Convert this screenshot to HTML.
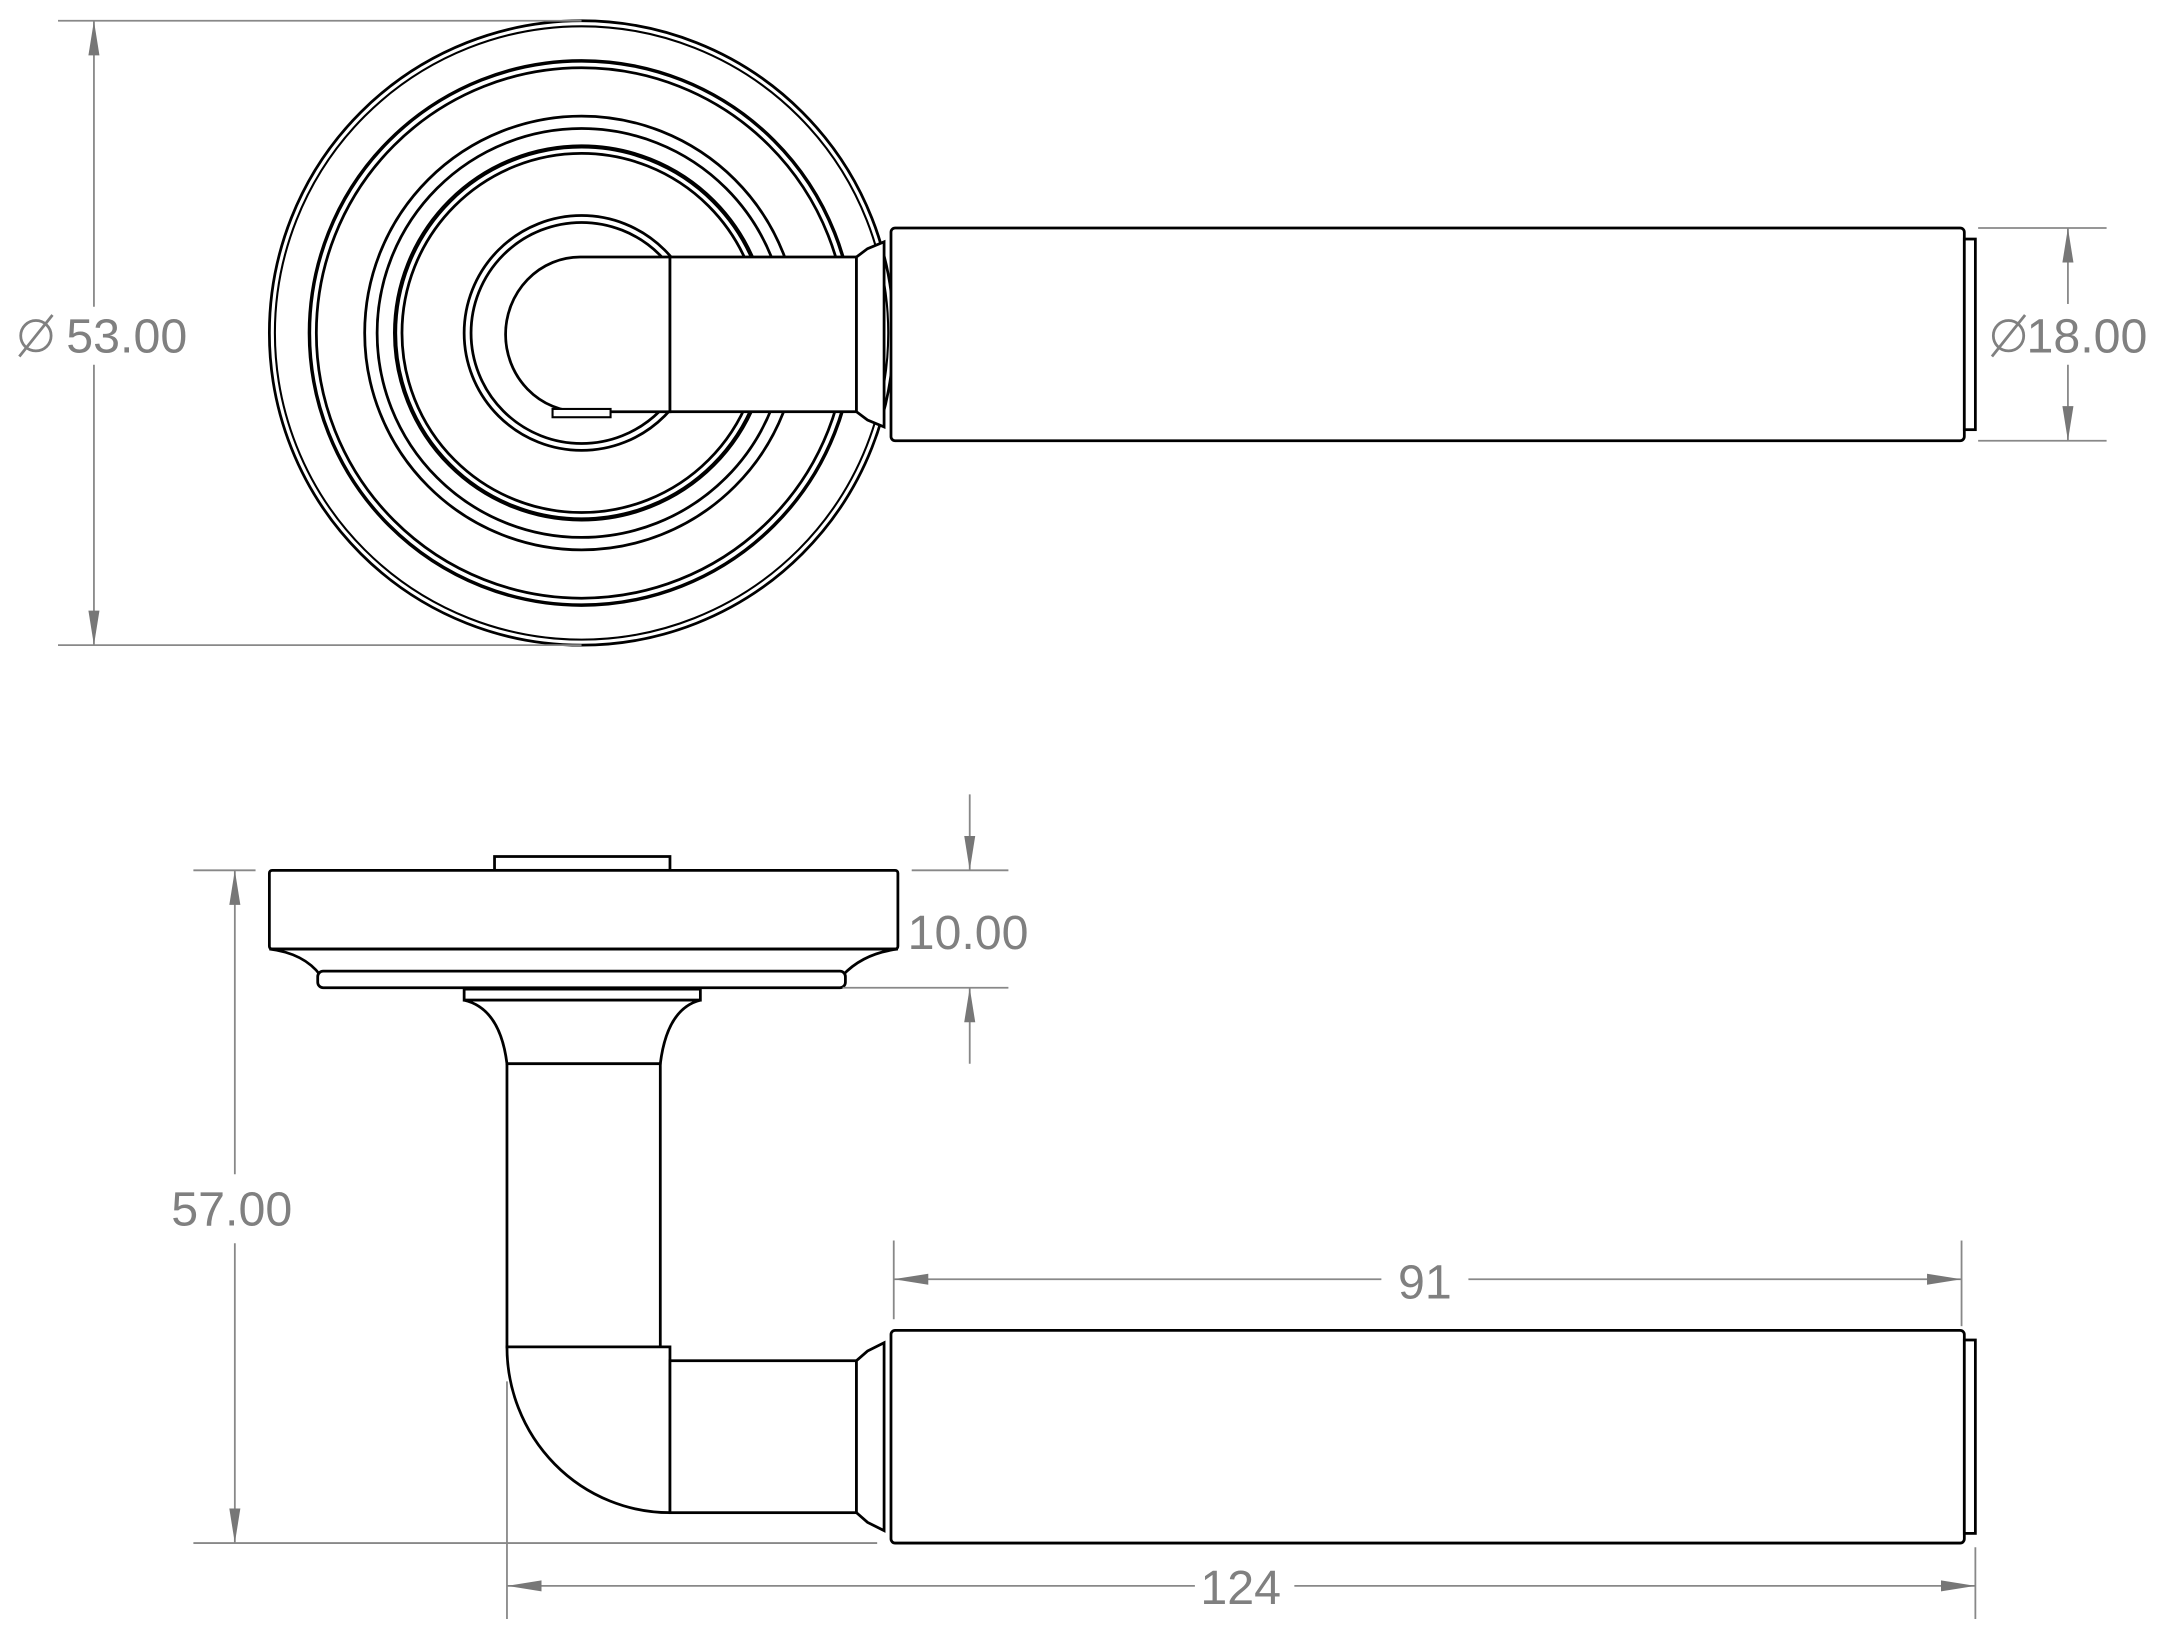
<!DOCTYPE html>
<html><head><meta charset="utf-8"><style>
html,body{margin:0;padding:0;background:#fff}
svg{display:block}
text{font-family:"Liberation Sans",sans-serif;fill:#808080;font-size:35px}
</style></head><body>
<svg width="2166" height="1626" viewBox="0 0 1568 1177" xmlns="http://www.w3.org/2000/svg">
<defs>
<marker id="a" viewBox="0 0 25 10" refX="25" refY="5" markerWidth="25" markerHeight="10" markerUnits="userSpaceOnUse" orient="auto"><path d="M0,1 L25,5 L0,9 z" fill="#777"/></marker>
</defs>
<g fill="none" stroke="#000" stroke-width="2">
<circle cx="421" cy="241" r="226"/>
<circle cx="421" cy="241" r="222" stroke-width="1.5"/>
<circle cx="421" cy="241" r="197" stroke-width="2.5"/>
<circle cx="421" cy="241" r="192"/>
<circle cx="421" cy="241" r="157"/>
<circle cx="421" cy="241" r="148"/>
<circle cx="421" cy="241" r="135" stroke-width="3"/>
<circle cx="421" cy="241" r="130"/>
<circle cx="421" cy="241" r="85"/>
<circle cx="421" cy="241" r="80"/>
</g>
<g fill="#fff" stroke="#000" stroke-width="2">
<path d="M485,186 L420,186 A54,56 0 0 0 420,298 L485,298 Z"/>
<rect x="485" y="186" width="135" height="112"/>
<path d="M620,186 L628,180 L640,175 L640,309 L628,304 L620,298 Z"/>
<rect x="645" y="165" width="777" height="154" rx="3"/>
<rect x="1422" y="173" width="8" height="138"/>
<rect x="400" y="296" width="42" height="6" stroke-width="1.5"/>
<rect x="358" y="620" width="127" height="10"/>
<rect x="195" y="630" width="455" height="57" rx="2"/>
<path d="M195,687 Q220,690 232,706 L610,706 Q625,690 650,687 Z"/>
<rect x="230" y="703" width="382" height="12" rx="4"/>
<rect x="336" y="716" width="171" height="8"/>
<path d="M336,724 Q362,730 367,770 L478,770 Q483,730 507,724 Z"/>
<rect x="367" y="770" width="111" height="205"/>
<path d="M367,975 L485,975 L485,1095 A118,120 0 0 1 367,975 Z"/>
<rect x="485" y="985" width="135" height="110"/>
<path d="M620,985 L628,978 L640,972 L640,1108 L628,1102 L620,1095 Z"/>
<rect x="645" y="963" width="777" height="154" rx="3"/>
<rect x="1422" y="970" width="8" height="140"/>
</g>
<g stroke="#888" stroke-width="1.3" fill="none">
<line x1="42" y1="15" x2="421" y2="15"/><line x1="42" y1="467" x2="421" y2="467"/>
<line x1="68" y1="222" x2="68" y2="15" marker-end="url(#a)"/><line x1="68" y1="264" x2="68" y2="467" marker-end="url(#a)"/>
<line x1="1432" y1="165" x2="1525" y2="165"/><line x1="1432" y1="319" x2="1525" y2="319"/>
<line x1="1497" y1="220" x2="1497" y2="165" marker-end="url(#a)"/><line x1="1497" y1="264" x2="1497" y2="319" marker-end="url(#a)"/>
<line x1="660" y1="630" x2="730" y2="630"/><line x1="610" y1="715" x2="730" y2="715"/>
<line x1="702" y1="575" x2="702" y2="630" marker-end="url(#a)"/><line x1="702" y1="770" x2="702" y2="715" marker-end="url(#a)"/>
<line x1="140" y1="630" x2="185" y2="630"/><line x1="140" y1="1117" x2="635" y2="1117"/>
<line x1="170" y1="850" x2="170" y2="630" marker-end="url(#a)"/><line x1="170" y1="900" x2="170" y2="1117" marker-end="url(#a)"/>
<line x1="647" y1="898" x2="647" y2="955"/><line x1="1420" y1="898" x2="1420" y2="960"/>
<line x1="1000" y1="926" x2="647" y2="926" marker-end="url(#a)"/><line x1="1063" y1="926" x2="1420" y2="926" marker-end="url(#a)"/>
<line x1="367" y1="1000" x2="367" y2="1172"/><line x1="1430" y1="1120" x2="1430" y2="1172"/>
<line x1="865" y1="1148" x2="367" y2="1148" marker-end="url(#a)"/><line x1="937" y1="1148" x2="1430" y2="1148" marker-end="url(#a)"/>
<!-- diameter symbols -->
<circle cx="26" cy="243" r="11" stroke="#808080" stroke-width="2"/>
<line x1="14" y1="258" x2="38" y2="228" stroke="#808080" stroke-width="2"/>
<circle cx="1454" cy="243" r="11" stroke="#808080" stroke-width="2"/>
<line x1="1442" y1="258" x2="1466" y2="228" stroke="#808080" stroke-width="2"/>
</g>
<text x="48" y="255">53.00</text>
<text x="1467" y="255">18.00</text>
<text x="657" y="687">10.00</text>
<text x="124" y="887">57.00</text>
<text x="1012" y="940">91</text>
<text x="869" y="1161">124</text>
</svg>
</body></html>
